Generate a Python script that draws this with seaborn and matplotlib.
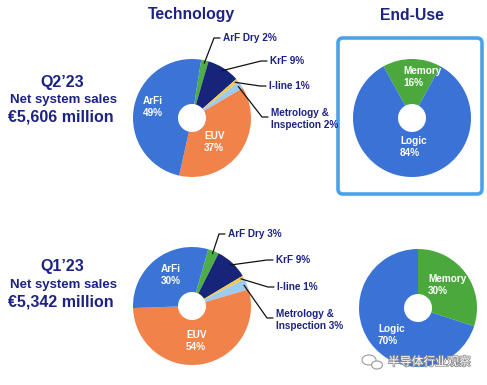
import matplotlib.pyplot as plt
import numpy as np
import seaborn as sns
from matplotlib.patches import FancyBboxPatch, Ellipse
import matplotlib.patheffects as pe

# data
tech_labels = ["ArF Dry", "KrF", "I-line", "Metrology &\nInspection", "EUV", "ArFi"]
tech_q2 = [2, 9, 1, 2, 37, 49]
tech_q1 = [3, 9, 1, 3, 54, 30]
tech_colors = ["#4DAE45", "#16247A", "#F2C84B", "#9DCBF0", "#F0824A", "#3B74D4"]

use_labels = ["Memory", "Logic"]
use_q2 = [16, 84]
use_q1 = [30, 70]
use_colors = ["#4BA83D", "#3A73D5"]

quarters = ["Q2\u201923", "Q1\u201923"]
sales = ["\u20ac5,606 million", "\u20ac5,342 million"]

W, H = 487, 385
NAVY = "#1C2383"

sns.set_theme(style="white")
plt.rcParams['font.family'] = ['Liberation Sans', 'DejaVu Sans']

fig = plt.figure(figsize=(W / 100, H / 100), dpi=100)
ax = fig.add_axes([0, 0, 1, 1])


def Y(y):
    return H - y


def donut(vals, colors, cx, cy, r, start):
    wedges, _ = ax.pie(vals, colors=colors, startangle=start, counterclock=False,
                       center=(cx, Y(cy)), radius=r, frame=True,
                       wedgeprops=dict(width=r - 14, linewidth=0))
    return wedges


def anchor(w, cx, cy, rr):
    a = np.deg2rad((w.theta1 + w.theta2) / 2)
    return cx + rr * np.cos(a), Y(cy) + rr * np.sin(a)


# technology donuts
tech_sets = [
    (tech_q2, 192, 118, 81,
     [(223, 38), (270, 61), (269, 86), (271, 119)],
     [(143, 107), (204, 142)]),
    (tech_q1, 192, 306, 74,
     [(228, 234), (276, 260), (277, 287), (276, 320)],
     [(161, 275), (186, 341)]),
]
for vals, cx, cy, st, outpos, inpos in tech_sets:
    wedges = donut(vals, tech_colors, cx, cy, 59, st)
    for i in range(4):
        lx, ly = outpos[i]
        ax.text(lx, Y(ly), f"{tech_labels[i]} {vals[i]}%", color=NAVY, fontsize=7.2,
                fontweight="bold", ha="left", va="center", linespacing=1.25)
        x0, y0 = anchor(wedges[i], cx, cy, 56)
        ey = ly - 2 if i == 3 else ly
        ax.plot([x0, lx - 9, lx - 3], [y0, Y(ey), Y(ey)], color="#111111", lw=0.9)
    for j, i in enumerate([5, 4]):
        lx, ly = inpos[j]
        ax.text(lx, Y(ly), f"{tech_labels[i]}\n{vals[i]}%", color="white", fontsize=7.2,
                fontweight="bold", ha="left", va="center", linespacing=1.2)

# end-use donuts
use_sets = [
    (use_q2, 412, 118, 90 + use_q2[0] * 3.6 / 2, [(403, 77), (400, 147)]),
    (use_q1, 418, 308, 90, [(428, 285), (378, 335)]),
]
for vals, cx, cy, st, inpos in use_sets:
    donut(vals, use_colors, cx, cy, 59, st)
    for i in range(2):
        lx, ly = inpos[i]
        ax.text(lx, Y(ly), f"{use_labels[i]}\n{vals[i]}%", color="white", fontsize=7.2,
                fontweight="bold", ha="left", va="center", linespacing=1.2)

# frame around Q2 end-use
ax.add_patch(FancyBboxPatch((338, Y(194)), 144, 156,
                            boxstyle="round,pad=0,rounding_size=5",
                            facecolor="none", edgecolor="#4AA3E8", lw=2.6))

# titles
ax.text(191, Y(15), "Technology", color=NAVY, fontsize=11.3, fontweight="bold",
        ha="center", va="center")
ax.text(412, Y(15), "End-Use", color=NAVY, fontsize=11.3, fontweight="bold",
        ha="center", va="center")

# quarter blocks
for q, s, y0 in zip(quarters, sales, [82, 267]):
    ax.text(62, Y(y0), q, color=NAVY, fontsize=11.5, fontweight="bold",
            ha="center", va="center")
    ax.text(63, Y(y0 + 18), "Net system sales", color=NAVY, fontsize=9.5,
            fontweight="bold", ha="center", va="center")
    ax.text(61, Y(y0 + 35), s, color=NAVY, fontsize=11.5, fontweight="bold",
            ha="center", va="center")

# watermark
for ex, ey, ew, eh in [(369, 360, 14, 10), (377, 365, 11, 8)]:
    ax.add_patch(Ellipse((ex, Y(ey)), ew, eh, facecolor="white",
                         edgecolor="#9a9a9a", lw=0.8))
ax.text(388, Y(362), "半导体行业观察", color="white", fontsize=8.5,
        family=['Noto Sans CJK SC', 'DejaVu Sans'], ha="left", va="center",
        path_effects=[pe.withStroke(linewidth=1.2, foreground="#8a8a8a")])

ax.set_xlim(0, W)
ax.set_ylim(0, H)
ax.set_aspect("equal")
ax.axis("off")
fig.savefig("out.png", dpi=100)
